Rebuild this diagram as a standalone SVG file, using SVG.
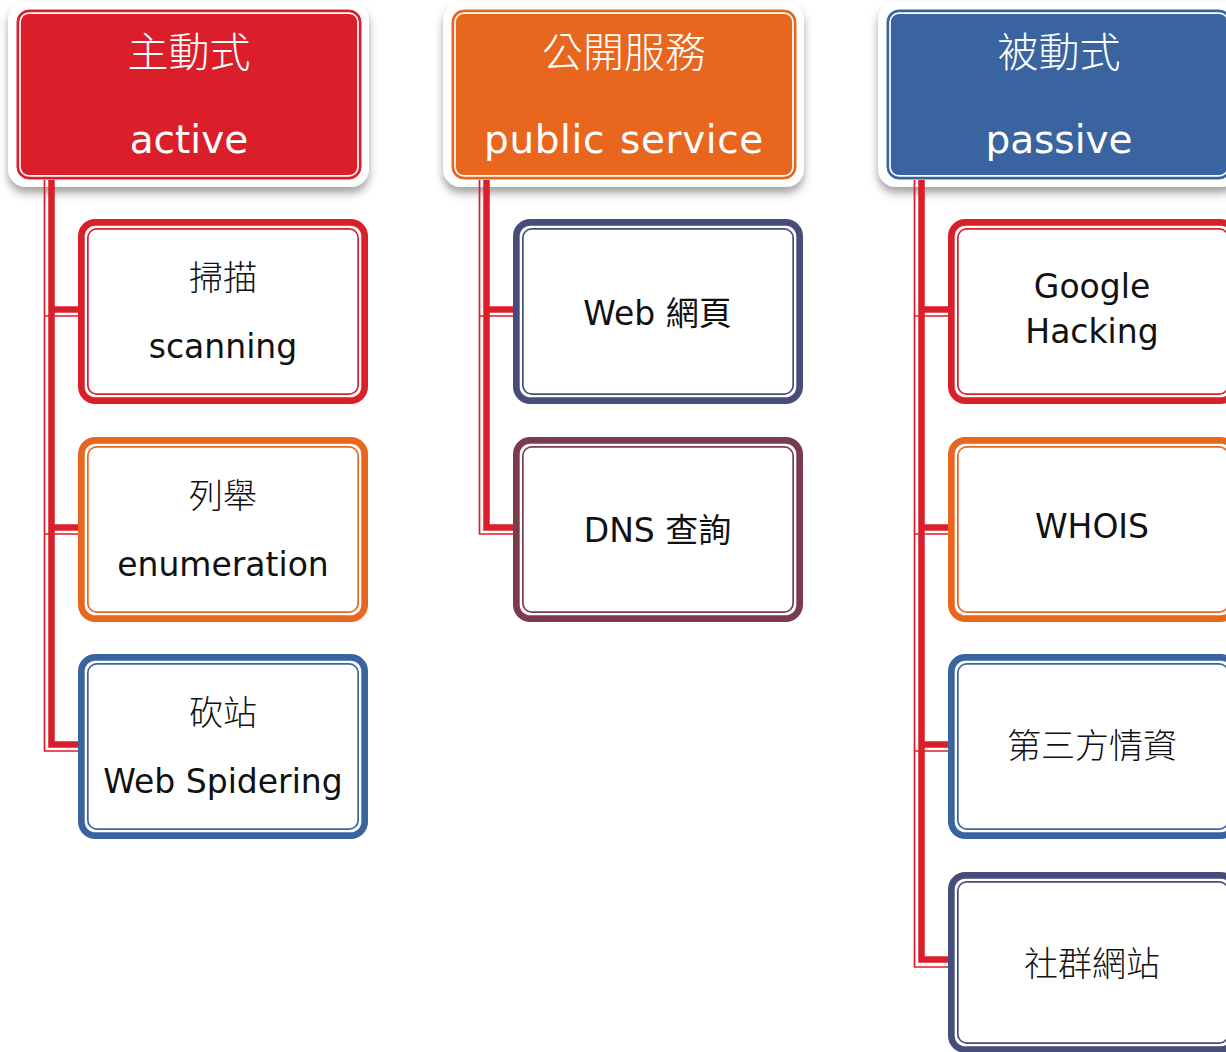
<svg xmlns="http://www.w3.org/2000/svg" width="1226" height="1052" viewBox="0 0 1226 1052">
<defs>
<filter id="sh" x="-10%" y="-10%" width="120%" height="130%">
<feDropShadow dx="0" dy="6" stdDeviation="4" flood-color="#555" flood-opacity="0.55"/>
</filter>
<style>
.frame{fill:#fff;filter:url(#sh)}
.hin{fill:none;stroke:#fff;stroke-width:1.7}
.bo{fill:#fff;stroke-width:6.7}
.bi{fill:none;stroke-width:1.7}
.red{fill:#DA1F2B;stroke:#DA1F2B}
.org{fill:#E9661F;stroke:#E9661F}
.blu{fill:#3A64A0;stroke:#3A64A0}
.nav{stroke:#464D7B}
.mar{stroke:#7A3B4C}
.sred{stroke:#DA1F2B}
.sorg{stroke:#E9661F}
.sblu{stroke:#3A64A0}
.thick{fill:none;stroke:#DA1F2B;stroke-width:6.5;stroke-linejoin:miter}
.thin{fill:none;stroke:#DA1F2B;stroke-width:1.7;stroke-linejoin:round}
.hcj{font-family:"Noto Sans CJK TC","Noto Sans CJK SC",sans-serif;font-size:41px;font-weight:300;fill:#fff;text-anchor:middle}
.hen{font-family:"DejaVu Sans",sans-serif;font-size:39px;fill:#fff;text-anchor:middle}
.ccj{font-family:"Noto Sans CJK TC","Noto Sans CJK SC",sans-serif;font-size:34px;font-weight:300;fill:#111;text-anchor:middle}
.cen{font-family:"DejaVu Sans","Noto Sans CJK TC",sans-serif;font-size:33px;fill:#111;text-anchor:middle}
</style>
</defs>
<rect width="1226" height="1052" fill="#fff"/>

<g id="hdr-active">
<rect class="frame" x="8" y="2" width="361" height="185" rx="18"/>
<rect class="red" x="17" y="10" width="344" height="169" rx="12" stroke="none"/>
<rect class="hin" x="20" y="13.1" width="338" height="162.8" rx="9"/>
<text class="hcj" x="189" y="67">主動式</text>
<text class="hen" x="189" y="153">active</text>
</g>
<g id="hdr-public">
<rect class="frame" x="443" y="2" width="361" height="185" rx="18"/>
<rect class="org" x="452" y="10" width="344" height="169" rx="12" stroke="none"/>
<rect class="hin" x="455" y="13.1" width="338" height="162.8" rx="9"/>
<text class="hcj" x="624" y="67">公開服務</text>
<text class="hen" x="624" y="153" word-spacing="2" letter-spacing="0.6">public service</text>
</g>
<g id="hdr-passive">
<rect class="frame" x="878" y="2" width="361" height="185" rx="18"/>
<rect class="blu" x="887" y="10" width="344" height="169" rx="12" stroke="none"/>
<rect class="hin" x="890" y="13.1" width="338" height="162.8" rx="9"/>
<text class="hcj" x="1059" y="67">被動式</text>
<text class="hen" x="1059" y="153">passive</text>
</g>

<g id="connectors">
<path class="thick" d="M51.5,180 V744.5 H80"/>
<path class="thin" d="M44.5,180 V751 H80"/>
<path class="thick" d="M51.5,309.5 H80"/>
<path class="thin" d="M44.5,316 H80"/>
<path class="thick" d="M51.5,527.5 H80"/>
<path class="thin" d="M44.5,534 H80"/>

<path class="thick" d="M486.5,180 V527.5 H515"/>
<path class="thin" d="M479.5,180 V534 H515"/>
<path class="thick" d="M486.5,309.5 H515"/>
<path class="thin" d="M479.5,316 H515"/>

<path class="thick" d="M921.5,180 V959.5 H950"/>
<path class="thin" d="M914.5,180 V967 H950"/>
<path class="thick" d="M921.5,309.5 H950"/>
<path class="thin" d="M914.5,316 H950"/>
<path class="thick" d="M921.5,527.5 H950"/>
<path class="thin" d="M914.5,534 H950"/>
<path class="thick" d="M921.5,744.5 H950"/>
<path class="thin" d="M914.5,751 H950"/>
</g>

<g id="n-scanning">
<rect class="bo sred" x="81.35" y="222.35" width="283.3" height="178.3" rx="14"/>
<rect class="bi sred" x="87.85" y="228.85" width="270.3" height="165.3" rx="9"/>
<text class="ccj" x="223" y="290">掃描</text>
<text class="cen" x="223" y="358">scanning</text>
</g>
<g id="n-enumeration">
<rect class="bo sorg" x="81.35" y="440.35" width="283.3" height="178.3" rx="14"/>
<rect class="bi sorg" x="87.85" y="446.85" width="270.3" height="165.3" rx="9"/>
<text class="ccj" x="223" y="508">列舉</text>
<text class="cen" x="223" y="576">enumeration</text>
</g>
<g id="n-spidering">
<rect class="bo sblu" x="81.35" y="657.35" width="283.3" height="178.3" rx="14"/>
<rect class="bi sblu" x="87.85" y="663.85" width="270.3" height="165.3" rx="9"/>
<text class="ccj" x="223" y="725">砍站</text>
<text class="cen" x="223" y="793">Web Spidering</text>
</g>

<g id="n-web">
<rect class="bo nav" x="516.35" y="222.35" width="283.3" height="178.3" rx="14"/>
<rect class="bi nav" x="522.85" y="228.85" width="270.3" height="165.3" rx="9"/>
<text class="cen" x="657.5" y="325">Web 網頁</text>
</g>
<g id="n-dns">
<rect class="bo mar" x="516.35" y="440.35" width="283.3" height="178.3" rx="14"/>
<rect class="bi mar" x="522.85" y="446.85" width="270.3" height="165.3" rx="9"/>
<text class="cen" x="657.5" y="542">DNS 查詢</text>
</g>

<g id="n-google">
<rect class="bo sred" x="951.35" y="222.35" width="283.3" height="178.3" rx="14"/>
<rect class="bi sred" x="957.85" y="228.85" width="270.3" height="165.3" rx="9"/>
<text class="cen" x="1092" y="298">Google</text>
<text class="cen" x="1092" y="343">Hacking</text>
</g>
<g id="n-whois">
<rect class="bo sorg" x="951.35" y="440.35" width="283.3" height="178.3" rx="14"/>
<rect class="bi sorg" x="957.85" y="446.85" width="270.3" height="165.3" rx="9"/>
<text class="cen" x="1092" y="538">WHOIS</text>
</g>
<g id="n-thirdparty">
<rect class="bo sblu" x="951.35" y="657.35" width="283.3" height="178.3" rx="14"/>
<rect class="bi sblu" x="957.85" y="663.85" width="270.3" height="165.3" rx="9"/>
<text class="ccj" x="1092" y="758">第三方情資</text>
</g>
<g id="n-social">
<rect class="bo nav" x="951.35" y="875.35" width="283.3" height="174.3" rx="14"/>
<rect class="bi nav" x="957.85" y="881.85" width="270.3" height="161.3" rx="9"/>
<text class="ccj" x="1092" y="976">社群網站</text>
</g>
</svg>
